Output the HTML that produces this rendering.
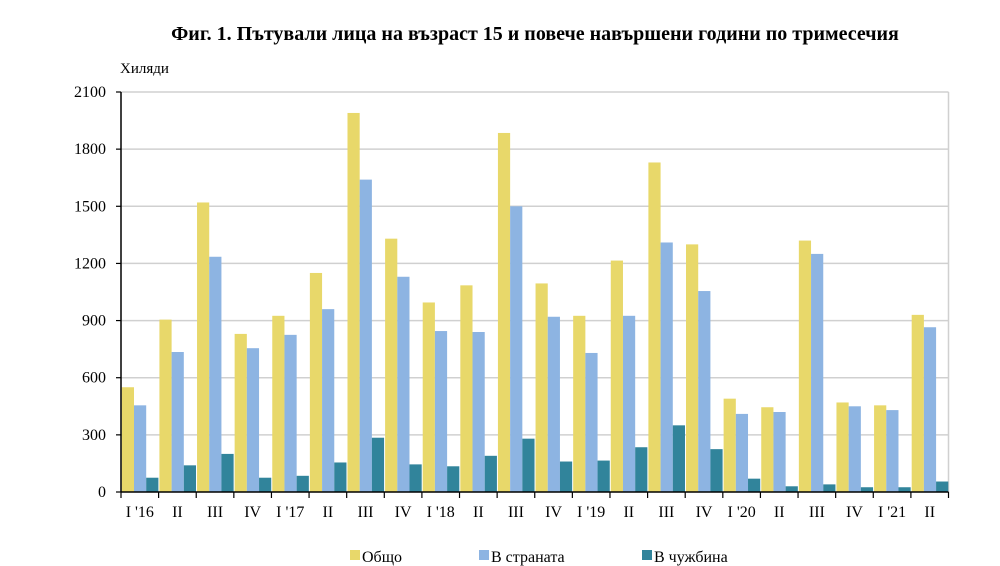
<!DOCTYPE html>
<html><head><meta charset="utf-8"><style>
html,body{margin:0;padding:0;background:#fff;width:1000px;height:566px;overflow:hidden}
svg{display:block;font-family:"Liberation Serif",serif}
</style></head><body>
<svg id="c" width="1000" height="566" viewBox="0 0 1000 566" xmlns="http://www.w3.org/2000/svg">
<text x="535" y="40" text-anchor="middle" font-size="20" font-weight="bold">Фиг. 1. Пътували лица на възраст 15 и повече навършени години по тримесечия</text>
<text x="120" y="73" font-size="15">Хиляди</text>
<g id="g"></g>
<rect x="350" y="550" width="10" height="10" fill="#E8D86A"/><text x="362" y="562" font-size="16">Общо</text>
<rect x="479" y="550" width="10" height="10" fill="#8DB4E2"/><text x="491" y="562" font-size="16">В страната</text>
<rect x="642" y="550" width="10" height="10" fill="#31849B"/><text x="654" y="562" font-size="16">В чужбина</text>
</svg>
<script>
var d=[[550,455,75],[905,735,140],[1520,1235,200],[830,755,75],[925,825,85],[1150,960,155],[1990,1640,285],[1330,1130,145],[995,845,135],[1085,840,190],[1885,1500,280],[1095,920,160],[925,730,165],[1215,925,235],[1730,1310,350],[1300,1055,225],[490,410,70],[445,420,30],[1320,1250,40],[470,450,25],[455,430,25],[930,865,55]];
var L=["I '16","II","III","IV","I '17","II","III","IV","I '18","II","III","IV","I '19","II","III","IV","I '20","II","III","IV","I '21","II"];
var c=["#E8D86A","#8DB4E2","#31849B"];
var x0=121,x1=948.5,y0=492,yTop=92,w=(x1-x0)/22,s='';
for(var v=300;v<=2100;v+=300){var y=y0-v*400/2100;s+='<line x1="'+x0+'" x2="'+x1+'" y1="'+y+'" y2="'+y+'" stroke="#d0d0d0" stroke-width="1.5"/>';}
s+='<line x1="'+x1+'" x2="'+x1+'" y1="'+yTop+'" y2="'+y0+'" stroke="#d0d0d0" stroke-width="1.5"/>';
for(var v=0;v<=2100;v+=300){var y=y0-v*400/2100;s+='<text x="106" y="'+(y+5)+'" text-anchor="end" font-size="16">'+v+'</text>';}
for(var i=0;i<22;i++){var bx=x0+i*w;for(var j=0;j<3;j++){var h=d[i][j]*400/2100;s+='<rect x="'+(bx+0.8+j*12.2)+'" y="'+(y0-h)+'" width="12.2" height="'+h+'" fill="'+c[j]+'"/>';}
s+='<text x="'+(bx+w/2)+'" y="517" text-anchor="middle" font-size="16">'+L[i]+'</text>';}
s+='<line x1="'+x0+'" x2="'+x0+'" y1="'+yTop+'" y2="'+y0+'" stroke="#000" stroke-width="1.5"/>';
s+='<line x1="'+x0+'" x2="'+x1+'" y1="'+y0+'" y2="'+y0+'" stroke="#000" stroke-width="1.5"/>';
for(var i=0;i<=22;i++){var tx=x0+i*w;s+='<line x1="'+tx+'" x2="'+tx+'" y1="'+y0+'" y2="'+(y0+6)+'" stroke="#000" stroke-width="1.2"/>';}
for(var v=0;v<=2100;v+=300){var y=y0-v*400/2100;s+='<line x1="'+(x0-5)+'" x2="'+x0+'" y1="'+y+'" y2="'+y+'" stroke="#000" stroke-width="1.2"/>';}
document.getElementById('g').innerHTML=s;
</script>
</body></html>
